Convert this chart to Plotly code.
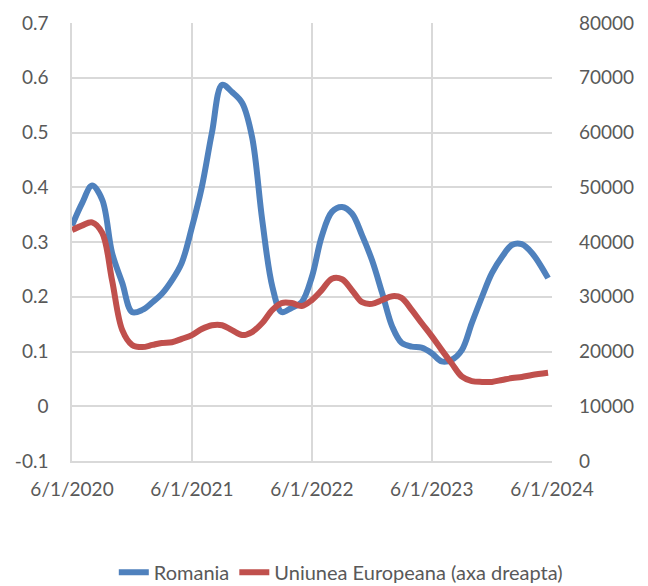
import pandas as pd
import plotly.graph_objs as go

# monthly readings, Jun 2020 .. Apr 2024, plus the last point in May 2024
dates = list(pd.date_range('2020-06-01', '2024-04-01', freq='MS')) + [pd.Timestamp('2024-05-20')]

romania = [0.33, 0.37, 0.403, 0.377, 0.28, 0.225, 0.172, 0.176, 0.19, 0.205,
           0.23, 0.262, 0.327, 0.40, 0.50, 0.587, 0.574, 0.554, 0.492, 0.34,
           0.218, 0.172, 0.18, 0.19, 0.236, 0.31, 0.355, 0.364, 0.352, 0.312,
           0.267, 0.207, 0.145, 0.116, 0.109, 0.107, 0.097, 0.082, 0.085, 0.103,
           0.152, 0.20, 0.243, 0.273, 0.295, 0.296, 0.28, 0.234]

ue = [42200, 43000, 43600, 41650, 33000, 23900, 21200, 20800, 21200, 21550,
      21700, 22300, 23000, 24100, 24800, 24800, 23900, 23000, 23560, 25200,
      27600, 28850, 28850, 28300, 29400, 31200, 33300, 33200, 31200, 29000,
      28700, 29400, 30100, 29800, 27600, 25200, 22800, 20300, 17800, 15400,
      14600, 14450, 14450, 14800, 15150, 15350, 15700, 16100]

x_ticks = ['2020-06-01', '2021-06-01', '2022-06-01', '2023-06-01', '2024-06-01']
x_labels = ['6/1/2020', '6/1/2021', '6/1/2022', '6/1/2023', '6/1/2024']

y_ticks = [-0.1, 0, 0.1, 0.2, 0.3, 0.4, 0.5, 0.6, 0.7]
y_labels = ['-0.1', '0', '0.1', '0.2', '0.3', '0.4', '0.5', '0.6', '0.7']

font_txt = dict(family='Lato, Carlito, Calibri, sans-serif', size=19, color='#595959')
grid_col = '#D9D9D9'

# page body has an 8px margin, so the figure is a bit smaller than the window
layout = go.Layout(
    width=640, height=578,
    paper_bgcolor='white',
    plot_bgcolor='white',
    margin=dict(l=64, r=96, t=15, b=125),
    font=font_txt,
)
fig = go.Figure(layout=layout)

fig.add_trace(go.Scatter(
    x=dates, y=romania,
    mode='lines',
    name='Romania',
    line=dict(color='#4F81BD', width=6, shape='spline', smoothing=1.0),
))
fig.add_trace(go.Scatter(
    x=dates, y=ue,
    mode='lines',
    name='Uniunea Europeana (axa dreapta)',
    yaxis='y2',
    line=dict(color='#C0504D', width=6, shape='spline', smoothing=1.0),
))

fig.update_layout(
    xaxis=dict(
        range=['2020-06-01', '2024-06-01'],
        tickvals=x_ticks, ticktext=x_labels,
        showgrid=True, gridcolor=grid_col, gridwidth=1.5,
        showline=True, linecolor=grid_col, linewidth=1.5,
        ticks='', ticklabelstandoff=10,
        zeroline=False, automargin=False,
    ),
    yaxis=dict(
        range=[-0.1, 0.7],
        tickvals=y_ticks, ticktext=y_labels,
        showgrid=True, gridcolor=grid_col, gridwidth=1.5,
        showline=True, linecolor=grid_col, linewidth=1.5,
        zeroline=False, ticks='', ticklabelstandoff=18,
        automargin=False,
    ),
    yaxis2=dict(
        range=[0, 80000], dtick=10000, tickformat='d',
        overlaying='y', side='right',
        showgrid=False, zeroline=False, ticks='',
        ticklabelstandoff=26, automargin=False,
    ),
    legend=dict(
        orientation='h',
        xref='container', yref='container',
        x=0.52, xanchor='center',
        y=0.024, yanchor='middle',
        font=dict(family=font_txt['family'], size=20, color='#595959'),
    ),
    showlegend=True,
    hovermode=False,
)

fig.write_html("out.html")
